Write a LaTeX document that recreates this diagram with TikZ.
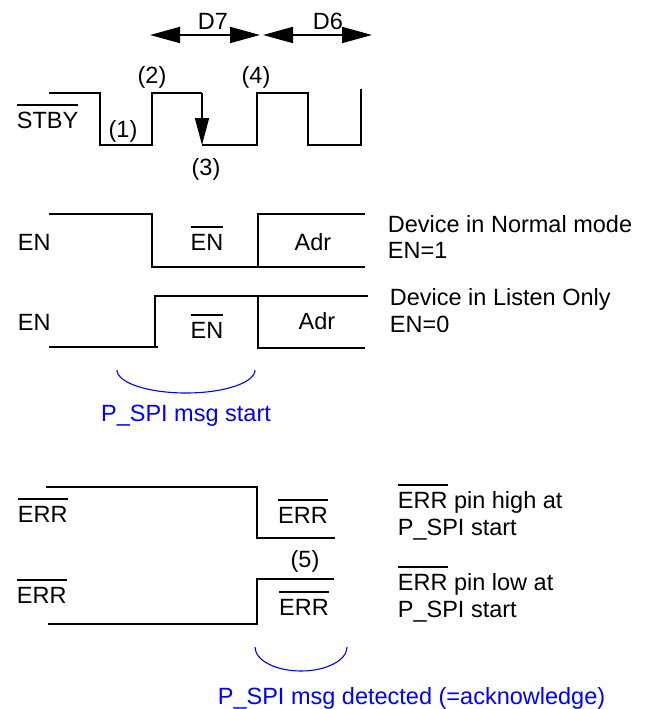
\documentclass[tikz,border=0pt]{standalone}
\usepackage{fontspec}
\setmainfont{Liberation Sans}
\usetikzlibrary{arrows.meta}

\begin{document}
\begin{tikzpicture}[x=1pt,y=-1pt,line width=1.8pt,
    lbl/.style={font=\fontsize{23.5}{27}\selectfont,inner sep=0pt,anchor=base west},
    lblc/.style={lbl,anchor=base},
    msg/.style={blue,line width=1.1pt},
    bitarrow/.style={{Triangle[length=30pt,width=16pt]}-{Triangle[length=30pt,width=16pt]}}]

    \useasboundingbox (0,0) rectangle (647,709);

    \def\ovl#1{\leavevmode\vbox{\hrule height 1.8pt\kern6pt\hbox{#1}}}

    % bit times
    \coordinate (d7a) at (150,35);
    \coordinate (d7b) at (260,35);
    \coordinate (d6a) at (263,35);
    \coordinate (d6b) at (372,35);
    \draw[bitarrow] (d7a) -- (d7b);
    \draw[bitarrow] (d6a) -- (d6b);
    \node[lblc] (d7) at (213,30) {D7};
    \node[lblc] (d6) at (328,30) {D6};

    % STBY
    \node[lbl] (stby) at (16,128) {\ovl{STBY}};
    \draw (49,93) -| (100,145) -| (152,93) -- (202,93);
    \draw[-{Triangle[length=27pt,width=14pt]}] (202,93) -- (202,145);
    \draw (202,145) -| (257,93) -| (308,145) -| (361,89);
    \node[lblc] (p1) at (123,137) {(1)};
    \node[lblc] (p2) at (152,84) {(2)};
    \node[lblc] (p3) at (206,175) {(3)};
    \node[lblc] (p4) at (256,84) {(4)};

    % EN, normal mode
    \draw (49,214) -| (152,267) -- (365,267);
    \draw (258,267) -- (258,214) -- (365,214);
    \node[lbl]  (en1)  at (17,250)  {EN};
    \node[lblc] (enb1) at (207,250) {\ovl{EN}};
    \node[lblc] (adr1) at (313,250) {Adr};
    \node[lbl]  (dev1) at (387,232) {Device in Normal mode};
    \node[lbl]  (val1) at (387,258) {EN=1};

    % EN, listen only
    \draw (49,347) -- (158,347);
    \draw (155,347) -- (155,296) -- (368,296);
    \draw (258,296) -- (258,348) -- (365,348);
    \node[lbl]  (en2)  at (17,330)  {EN};
    \node[lblc] (enb2) at (207,338) {\ovl{EN}};
    \node[lblc] (adr2) at (317,329) {Adr};
    \node[lbl]  (dev2) at (389,305) {Device in Listen Only};
    \node[lbl]  (val2) at (389,332) {EN=0};

    \draw[msg] (117,370) arc(180:360:69pt and 23pt);
    \node[lblc,blue] (start) at (186,421) {P\_SPI msg start};

    % ERR, high
    \draw (46,487) -| (257,538) -- (335,538);
    \node[lbl]  (err1)  at (17,522)  {\ovl{ERR}};
    \node[lblc] (errb1) at (303,523) {\ovl{ERR}};
    \node[lbl]  (hi1)   at (397,508) {\ovl{ERR} pin high at};
    \node[lbl]  (hi2)   at (397,535) {P\_SPI start};
    \node[lblc] (p5)    at (305,567) {(5)};

    % ERR, low
    \draw (48,624) -| (257,579) -- (334,579);
    \node[lbl]  (err2)  at (16,603)  {\ovl{ERR}};
    \node[lblc] (errb2) at (304,615) {\ovl{ERR}};
    \node[lbl]  (lo1)   at (397,590) {\ovl{ERR} pin low at};
    \node[lbl]  (lo2)   at (397,617) {P\_SPI start};

    \draw[msg] (255,647) arc(180:360:46pt and 24pt);
    \node[lbl,blue] (ack) at (217,704) {P\_SPI msg detected (=acknowledge)};

\end{tikzpicture}
\end{document}
